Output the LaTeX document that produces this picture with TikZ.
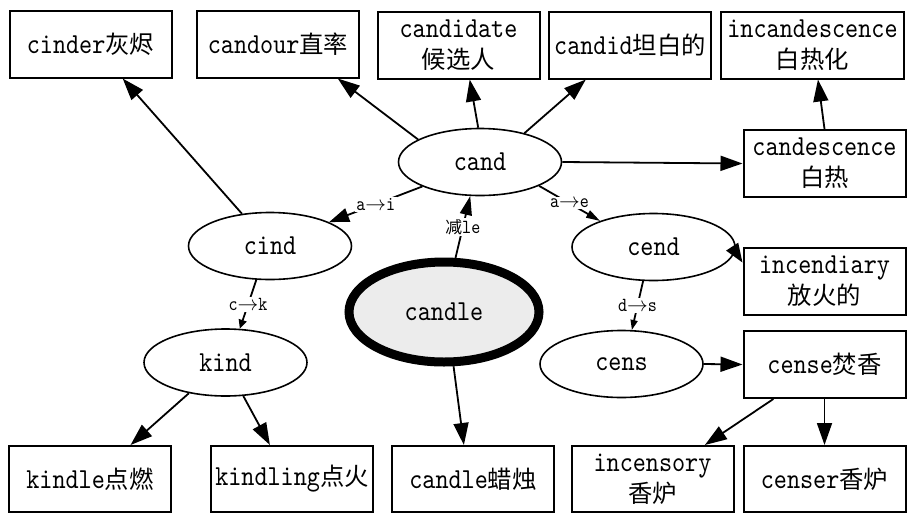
\documentclass[tikz,border=0pt]{standalone}
\usepackage{fontspec}
\newfontfamily\cjkfont{Noto Sans CJK SC}[Scale=0.84]
\newfontfamily\latmono{lmmono10-regular}[Extension=.otf, FakeStretch=0.86]
\usetikzlibrary{arrows.meta,shapes.geometric}
\newcommand{\zhs}[1]{{\cjkfont #1}}
\begin{document}
\begin{tikzpicture}[x=1pt,y=-1pt,
  txt/.style={font=\fontsize{29}{31}\selectfont\latmono},
  box/.style={txt,draw,line width=2pt,rectangle,inner sep=0pt,align=center,minimum width=162pt,minimum height=67pt},
  oval/.style={txt,draw,ellipse,line width=1.6pt,inner sep=0pt,minimum width=163pt,minimum height=67pt},
  arr/.style={line width=1.8pt,-{Triangle[length=22pt,width=15pt]}},
  lbl/.style={fill=white,inner sep=1.5pt,font=\fontsize{20}{22}\selectfont\latmono},
]
\useasboundingbox (0,0) rectangle (908,515);

% boxes
\node[box] (cinder) at (90.5,44) {cinder\zhs{灰烬}};
\node[box] (candour) at (278,44) {candour\zhs{直率}};
\node[box] (candidate) at (458.5,45) {candidate\\\zhs{候选人}};
\node[box] (candid) at (630,45) {candid\zhs{坦白的}};
\node[box, minimum width=183pt] (incandescence) at (812.5,45) {incandescence\\\zhs{白热化}};
\node[box] (candescence) at (824.5,163.5) {candescence\\\zhs{白热}};
\node[box] (incendiary) at (824.5,281.5) {incendiary\\\zhs{放火的}};
\node[box] (cense) at (824.5,364.5) {cense\zhs{焚香}};
\node[box, minimum height=66pt] (kindle) at (90,479) {kindle\zhs{点燃}};
\node[box, minimum height=66pt] (kindling) at (292,479) {kindling\zhs{点火}};
\node[box, minimum height=66pt] (candleb) at (473,479) {candle\zhs{蜡烛}};
\node[box, minimum height=66pt] (incensory) at (652.5,479) {incensory\\\zhs{香炉}};
\node[box, minimum height=66pt] (censer) at (824.5,479) {censer\zhs{香炉}};

% ellipses
\node[oval] (cand) at (480,162) {cand};
\node[oval] (cind) at (270,246) {cind};
\node[oval] (cend) at (653.5,247) {cend};
\node[oval] (kind) at (225.5,362.5) {kind};
\node[oval] (cens) at (621.5,364) {cens};
\node[oval, line width=9pt, fill=gray!15, minimum width=190pt, minimum height=100pt] (candle) at (444,312) {candle};

% connectors
\draw[arr] (cind.131) -- (cinder.-47);
\draw[arr] (cand.160) -- (candour.-30);
\draw[arr] (cand.93) -- (candidate.-72);
\draw[arr] (cand.33) -- (candid.-142);
\draw[arr] (cand.east) -- (candescence.west);
\draw[arr] (candescence.north) -- (incandescence.-81);
\draw[line width=1.8pt,-{Triangle[length=20pt,width=14pt]}] (cand.203) -- node[lbl]{a$\rightarrow$i} (cind.22);
\draw[line width=1.8pt,-{Triangle[length=19pt,width=12pt]}] (candle.78) -- node[lbl]{\zhs{减}le} (cand.-106);
\draw[line width=1.8pt,-{Triangle[length=14pt,width=8pt]}] (cand.-22) -- node[lbl]{a$\rightarrow$e} (cend.154);
\draw[line width=1.8pt,-{Triangle[length=9pt,width=8pt]}] (cind.-112) -- node[lbl]{c$\rightarrow$k} (kind.67);
\draw[line width=1.8pt,-{Triangle[length=10pt,width=7pt]}] (cend.-107) -- node[lbl]{d$\rightarrow$s} (cens.73);
\draw[line width=1.8pt,-{Triangle[length=19pt,width=14pt]}] (cend.-3) -- (incendiary.167);
\draw[arr] (cens.east) -- (cense.west);
\draw[arr] (kind.-140) -- (kindle.40);
\draw[arr] (kind.-62) -- (kindling.123);
\draw[arr] (candle.-80) -- (candleb.105);
\draw[arr] (cense.-146) -- (incensory.33);
\draw[arr] (cense.south) -- (censer.north);
\end{tikzpicture}
\end{document}
